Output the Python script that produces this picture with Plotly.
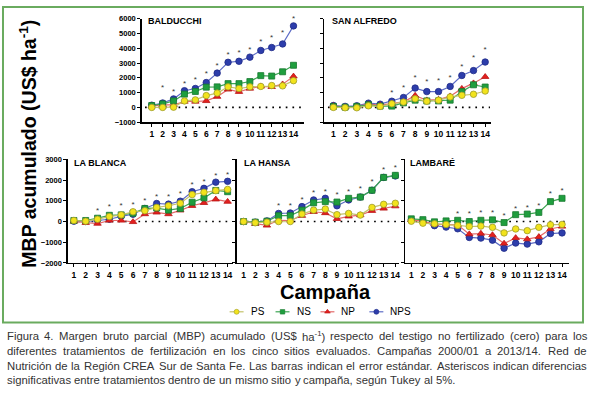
import plotly.graph_objects as go

W, H = 590, 394

campaigns = list(range(1, 15))
tick_labels = [str(c) for c in campaigns]
series_names = ["PS", "NS", "NP", "NPS"]
site_names = ["BALDUCCHI", "SAN ALFREDO", "LA BLANCA", "LA HANSA", "LAMBARÉ"]

# ---- BALDUCCHI ----
bal_ps = [0, 0, 20, 440, 510, 800, 970, 1390, 1280, 1390, 1420, 1480, 1460, 1810]
bal_ns = [130, 240, 440, 900, 1080, 1370, 1390, 1610, 1610, 1750, 2150, 2120, 2410, 2850]
bal_np = [90, 180, 180, 400, 400, 440, 730, 1220, 1060, 1280, 1420, 1390, 1570, 2100]
bal_nps = [150, 300, 575, 1130, 1280, 1680, 2320, 3050, 3120, 3400, 3850, 4050, 4290, 5510]
bal_sig_x = [2, 3, 4, 5, 6, 7, 8, 9, 10, 11, 12, 13, 14]
bal_sig_y = [1300, 1020, 1610, 1860, 2280, 2830, 3560, 3670, 3890, 4450, 4670, 5040, 6000]

# ---- SAN ALFREDO ----
sa_ps = [0, -20, -20, 110, 70, 250, 360, 580, 420, 490, 710, 820, 890, 1110]
sa_ns = [70, 20, 70, 180, 90, 90, 310, 490, 440, 440, 490, 1070, 1530, 1380]
sa_np = [110, 20, 70, 220, 160, 250, 380, 800, 490, 530, 760, 1270, 1640, 2070]
sa_nps = [130, 70, 110, 290, 220, 420, 670, 1310, 1070, 1070, 1420, 2160, 2490, 3070]
sa_sig_x = [6, 7, 8, 9, 10, 11, 12, 13, 14]
sa_sig_y = [980, 1310, 2000, 1730, 1760, 2000, 2730, 3330, 3910]

# ---- LA BLANCA ----
lb_ps = [50, 15, 110, 240, 320, 470, 520, 680, 760, 880, 1300, 1410, 1490, 1550]
lb_ns = [50, 50, 160, 300, 320, 400, 630, 650, 550, 630, 930, 1140, 1500, 1440]
lb_np = [0, -60, -100, 50, 50, -20, 360, 440, 360, 540, 760, 900, 1070, 960]
lb_nps = [15, 0, 50, 110, 250, 350, 630, 870, 840, 980, 1440, 1600, 1900, 1940]
lb_sig_x = [3, 4, 5, 6, 7, 8, 9, 10, 11, 12, 13, 14]
lb_sig_y = [520, 680, 730, 820, 1000, 1200, 1170, 1310, 1780, 1910, 2210, 2230]

# ---- LA HANSA ----
lh_ps = [0, -60, -30, 0, 0, 360, 550, 600, 330, 390, 310, 680, 830, 880]
lh_ns = [0, -30, 15, 280, 280, 550, 900, 960, 940, 1120, 1180, 1510, 2130, 2230]
lh_np = [0, -110, -190, 60, 50, 280, 470, 410, 130, 250, 310, 520, 630, 740]
lh_nps = [0, -30, 30, 390, 410, 720, 1040, 1120, 760, 1040, 1180, 1510, 2130, 2200]
lh_sig_x = [4, 5, 6, 7, 8, 9, 10, 11, 12, 13, 14]
lh_sig_y = [760, 770, 1040, 1370, 1430, 1280, 1430, 1590, 1900, 2500, 2600]

# ---- LAMBARÉ ----
lm_ps = [15, -80, -110, -140, -190, -240, -220, -280, -550, -360, -440, -280, -160, -140]
lm_ns = [130, 90, -15, 30, 60, 0, 60, 80, -50, 330, 360, 440, 960, 1120]
lm_np = [80, 15, -130, -130, -160, -610, -580, -650, -1060, -790, -850, -740, -360, -240]
lm_nps = [80, 15, -200, -270, -350, -770, -800, -900, -1290, -1040, -1090, -980, -580, -550]
lm_sig_x = [5, 6, 7, 8, 9, 10, 11, 12, 13, 14]
lm_sig_y = [360, 360, 410, 430, 270, 600, 660, 760, 1320, 1460]

top_yticks = [-1000, 0, 1000, 2000, 3000, 4000, 5000, 6000]
bot_yticks = [-2000, -1000, 0, 1000, 2000, 3000]

ylabel = "MBP acumulado (US$ ha<sup>-1</sup>)"
xlabel = "Campaña"
caption_lines = [
    "Figura 4. Margen bruto parcial (MBP) acumulado (US$ ha<sup>-1</sup>) respecto del testigo no fertilizado (cero) para los",
    "diferentes tratamientos de fertilización en los cinco sitios evaluados. Campañas 2000/01 a 2013/14. Red de",
    "Nutrición de la Región CREA Sur de Santa Fe. Las barras indican el error estándar. Asteriscos indican diferencias",
    "significativas entre tratamientos dentro de un mismo sitio y campaña, según Tukey al 5%.",
]

panels = [
    dict(name=site_names[0], data=[bal_ps, bal_ns, bal_np, bal_nps], sx=bal_sig_x, sy=bal_sig_y),
    dict(name=site_names[1], data=[sa_ps, sa_ns, sa_np, sa_nps], sx=sa_sig_x, sy=sa_sig_y),
    dict(name=site_names[2], data=[lb_ps, lb_ns, lb_np, lb_nps], sx=lb_sig_x, sy=lb_sig_y),
    dict(name=site_names[3], data=[lh_ps, lh_ns, lh_np, lh_nps], sx=lh_sig_x, sy=lh_sig_y),
    dict(name=site_names[4], data=[lm_ps, lm_ns, lm_np, lm_nps], sx=lm_sig_x, sy=lm_sig_y),
]

# ---- geometry (pixels) ----
# (axis x, right end, x of tick 1, x of tick 14, y top, y bottom, yrange, yticks, show y labels, title x, title y)
geom = [
    (142, 305, 152, 294, 15, 121, [-1000, 6000], top_yticks, True, 146, 17),
    (325, 492, 334, 486, 15, 121, [-1000, 6000], top_yticks, False, 331, 17),
    (68, 233, 74, 228, 159, 265, [-2000, 3000], bot_yticks, True, 72, 163),
    (237, 400, 244, 396, 159, 265, [-2000, 3000], bot_yticks, False, 242, 163),
    (406, 570, 412, 563, 159, 265, [-2000, 3000], bot_yticks, False, 409, 163),
]

def px(x):
    return x / W

def py(y):
    return 1 - y / H

styles = {
    "PS": dict(symbol="circle", fill="#f2e31c", edge="#9c9a2c", line="#c4c26a", size=6.5),
    "NS": dict(symbol="square", fill="#1f9e3e", edge="#17792e", line="#3da653", size=6),
    "NP": dict(symbol="triangle-up", fill="#e3201e", edge="#b81414", line="#e46a6a", size=6.5),
    "NPS": dict(symbol="circle", fill="#2d3dab", edge="#1f2b86", line="#5d6cc6", size=6.5),
}
draw_order = ["NPS", "NP", "NS", "PS"]

FONT = "Liberation Sans, Arial, sans-serif"

# Arial / Liberation Sans advance widths (1/1000 em) for caption justification
_W = {" ": 278, ".": 278, ",": 278, "(": 333, ")": 333, "/": 278, "%": 889, "$": 556, "-": 333, ":": 278}
for ch in "0123456789":
    _W[ch] = 556
_W.update(dict(zip("ABCDEFGHIJKLMNOPQRSTUVWXYZ",
                   [667, 667, 722, 722, 667, 611, 778, 722, 278, 500, 667, 556, 833, 722, 778, 667,
                    778, 722, 667, 611, 722, 667, 944, 667, 667, 611])))
_W.update(dict(zip("abcdefghijklmnopqrstuvwxyz",
                   [556, 556, 500, 556, 556, 278, 556, 556, 222, 222, 500, 222, 833, 556, 556, 556,
                    556, 333, 500, 278, 556, 500, 722, 500, 500, 500])))
_W.update({"á": 556, "é": 556, "í": 278, "ó": 556, "ú": 556, "ñ": 556})

def _plain_w(s):
    return sum(_W.get(c, 556) for c in s) / 1000.0

def word_em(word):
    if "<sup>" in word:
        base, rest = word.split("<sup>", 1)
        sup, tail = rest.split("</sup>", 1)
        return _plain_w(base) + 0.7 * _plain_w(sup) + _plain_w(tail)
    return _plain_w(word)

fig = go.Figure()
layout = dict(
    width=W, height=H, margin=dict(l=0, r=0, t=0, b=0),
    paper_bgcolor="white", plot_bgcolor="rgba(0,0,0,0)",
    showlegend=False, font=dict(family=FONT, color="black"),
)
annotations = []
shapes = []

for i, (p, g) in enumerate(zip(panels, geom)):
    ax_x, right, x1, x14, ytop, ybot, yr, yt, showy, tx, ty = g
    s = (x14 - x1) / 13.0
    xr = [1 - (x1 - ax_x) / s, 14 + (right - x14) / s]
    k = "" if i == 0 else str(i + 1)
    xa, ya = "x" + k, "y" + k
    layout["xaxis" + k] = dict(
        domain=[px(ax_x), px(right)], range=xr, anchor=ya,
        tickmode="array", tickvals=campaigns, ticktext=tick_labels, tickangle=0,
        showline=True, linecolor="black", linewidth=1.5,
        ticks="outside", ticklen=3, tickwidth=1, tickcolor="black",
        showgrid=False, zeroline=False,
        tickfont=dict(family=FONT, size=8.5, color="black", weight="bold"),
    )
    layout["yaxis" + k] = dict(
        domain=[py(ybot), py(ytop)], range=yr, anchor=xa,
        tickmode="array", tickvals=yt,
        showline=True, linecolor="black", linewidth=1.5,
        ticks="outside", ticklen=3, tickwidth=1, tickcolor="black",
        showgrid=False, zeroline=False, showticklabels=showy,
        tickfont=dict(family=FONT, size=7.5, color="black", weight="bold"),
    )
    # zero reference (testigo)
    shapes.append(dict(type="line", xref=xa, yref=ya, x0=xr[0] + 0.3, x1=xr[1] - 0.1, y0=0, y1=0,
                       line=dict(color="black", width=1.7, dash="1.7px,5px"), layer="below"))
    for nm in draw_order:
        st = styles[nm]
        vals = p["data"][series_names.index(nm)]
        fig.add_trace(go.Scatter(
            x=campaigns, y=vals, mode="lines+markers", name=nm, xaxis=xa, yaxis=ya,
            line=dict(color=st["line"], width=1.2),
            marker=dict(symbol=st["symbol"], size=st["size"], color=st["fill"],
                        line=dict(color=st["edge"], width=0.8)),
            cliponaxis=False, hoverinfo="skip",
        ))
    fig.add_trace(go.Scatter(
        x=p["sx"], y=p["sy"], mode="text", text=["*"] * len(p["sx"]),
        textfont=dict(family=FONT, size=8, color="#333333"), xaxis=xa, yaxis=ya,
        cliponaxis=False, hoverinfo="skip", textposition="middle center",
    ))
    annotations.append(dict(
        text=p["name"], xref="paper", yref="paper", x=px(tx), y=py(ty),
        xanchor="left", yanchor="middle", showarrow=False,
        font=dict(family=FONT, size=9, color="black", weight="bold"),
    ))

# ---- legend (custom, drawn on an overlay axis in pixel units) ----
layout["xaxis6"] = dict(domain=[0, 1], range=[0, W], anchor="y6", visible=False, fixedrange=True)
layout["yaxis6"] = dict(domain=[0, 1], range=[H, 0], anchor="x6", visible=False, fixedrange=True)
leg_y = 315
leg_cx = [237, 283, 328, 377]
for nm, cx in zip(series_names, leg_cx):
    st = styles[nm]
    fig.add_trace(go.Scatter(
        x=[cx - 7, cx + 7], y=[leg_y, leg_y], mode="lines", xaxis="x6", yaxis="y6",
        line=dict(color=st["line"], width=1.2), hoverinfo="skip",
    ))
    fig.add_trace(go.Scatter(
        x=[cx], y=[leg_y], mode="markers", xaxis="x6", yaxis="y6",
        marker=dict(symbol=st["symbol"], size=st["size"] - 1.5, color=st["fill"],
                    line=dict(color=st["edge"], width=0.6)), hoverinfo="skip",
    ))
    annotations.append(dict(
        text=nm, xref="paper", yref="paper", x=px(cx + 12), y=py(leg_y),
        xanchor="left", yanchor="middle", showarrow=False,
        font=dict(family=FONT, size=10, color="black"),
    ))

# ---- axis titles ----
annotations.append(dict(
    text=ylabel, xref="paper", yref="paper", x=px(28), y=py(143), textangle=-90,
    xanchor="center", yanchor="middle", showarrow=False,
    font=dict(family=FONT, size=19.5, color="black", weight="bold"),
))
annotations.append(dict(
    text=xlabel, xref="paper", yref="paper", x=px(326), y=py(295),
    xanchor="center", yanchor="middle", showarrow=False,
    font=dict(family=FONT, size=20, color="black", weight="bold"),
))

# ---- caption (justified word by word) ----
cap_left, cap_right, last_line_right = 5, 586, 454
cap_y = [340, 355, 370, 385]
words_per_line = [ln.split(" ") for ln in caption_lines]
last_em = sum(word_em(w) for w in words_per_line[-1]) + 0.278 * (len(words_per_line[-1]) - 1)
fs = (last_line_right - cap_left) / last_em
for wl in words_per_line[:-1]:
    need = sum(word_em(w) for w in wl) + 0.2 * (len(wl) - 1)
    fs = min(fs, (cap_right - cap_left) / need)
for li, (wl, yy) in enumerate(zip(words_per_line, cap_y)):
    widths = [word_em(w) * fs for w in wl]
    if li < len(words_per_line) - 1:
        gap = (cap_right - cap_left - sum(widths)) / (len(wl) - 1)
    else:
        gap = 0.278 * fs
    xpos = cap_left
    for w, wd in zip(wl, widths):
        annotations.append(dict(
            text=w, xref="paper", yref="paper", x=px(xpos), y=py(yy),
            xanchor="left", yanchor="middle", showarrow=False,
            font=dict(family=FONT, size=fs, color="#333333"),
        ))
        xpos += wd + gap

# ---- green frame ----
shapes.append(dict(type="rect", xref="paper", yref="paper",
                   x0=px(3), x1=px(584), y0=py(326), y1=py(3),
                   line=dict(color="#6aab5f", width=2), fillcolor="rgba(0,0,0,0)"))

layout["annotations"] = annotations
layout["shapes"] = shapes
fig.update_layout(**layout)
fig.write_html(
    "out.html",
    config={"displayModeBar": False, "staticPlot": True},
    post_script="document.body.style.margin='0';document.body.style.overflow='hidden';",
)
